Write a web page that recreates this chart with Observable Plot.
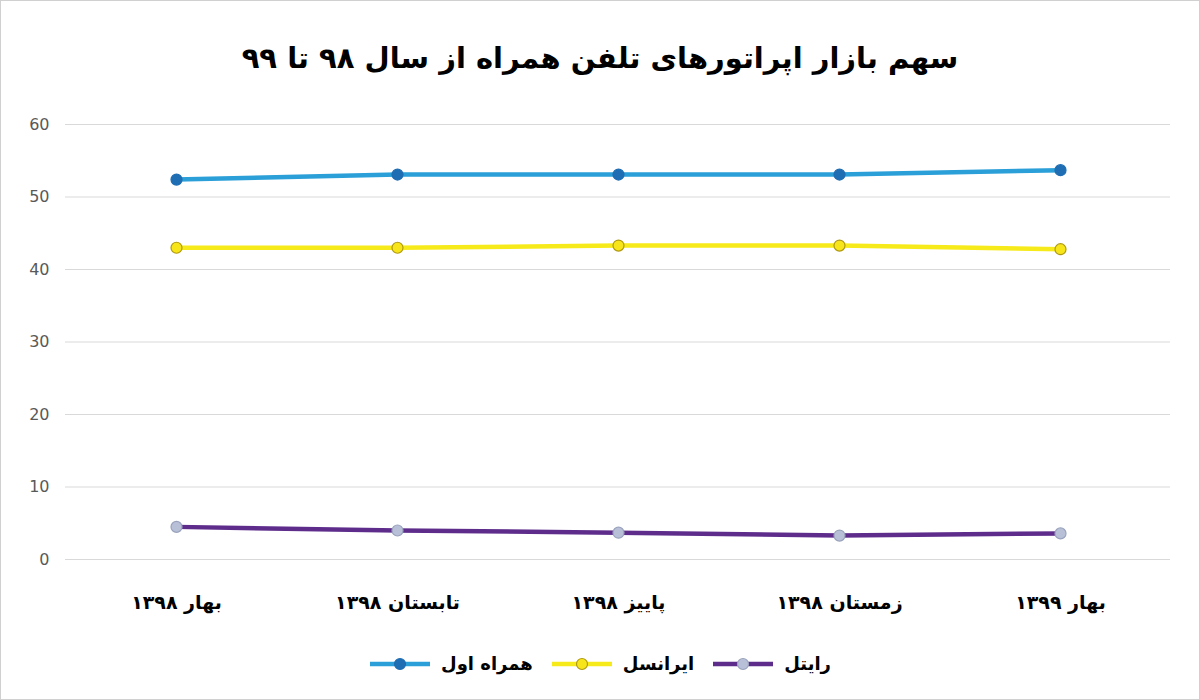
<!DOCTYPE html>
<html>
<head>
<meta charset="utf-8">
<script src="https://cdn.jsdelivr.net/npm/d3@7"></script>
<script src="https://cdn.jsdelivr.net/npm/@observablehq/plot@0.6"></script>
<style>
  html, body { margin: 0; padding: 0; background: #fff; }
  #wrap { width: 1198px; height: 698px; border: 1px solid #d0d0d0; position: relative; overflow: hidden; font-family: "DejaVu Sans", sans-serif; }
  #title { height: 95px; line-height: 114px; text-align: center; font-weight: bold; font-size: 29px; color: #000; direction: rtl; }
  #legend { display: flex; justify-content: center; align-items: center; gap: 18px; margin-top: 22px; font-weight: bold; font-size: 18px; }
  .item { display: flex; align-items: center; gap: 10px; direction: ltr; }
  .item span { direction: rtl; }
</style>
</head>
<body>
<div id="wrap">
  <div id="title">سهم بازار اپراتورهای تلفن همراه از سال ۹۸ تا ۹۹</div>
  <div id="chart"></div>
  <div id="legend"></div>
</div>
<script>
const periods = ["بهار ۱۳۹۸", "تابستان ۱۳۹۸", "پاییز ۱۳۹۸", "زمستان ۱۳۹۸", "بهار ۱۳۹۹"];
const seriesNames = ["همراه اول", "ایرانسل", "رایتل"];
const hamrahAval = [52.4, 53.1, 53.1, 53.1, 53.7];
const irancell = [43.0, 43.0, 43.3, 43.3, 42.8];
const rightel = [4.5, 4.0, 3.7, 3.3, 3.6];
const yTicks = [0, 10, 20, 30, 40, 50, 60];

const styles = [
  {line: "#2a9fd8", fill: "#1f6db3", stroke: "#1f6db3"},
  {line: "#f7ea1a", fill: "#f7e51a", stroke: "#b09a10"},
  {line: "#5e2d8c", fill: "#b8c0d8", stroke: "#9aa3bd"}
];
const allValues = [hamrahAval, irancell, rightel];
const data = [];
allValues.forEach((vals, si) => vals.forEach((v, i) => data.push({series: seriesNames[si], period: periods[i], value: v, si})));

const plot = Plot.plot({
  width: 1198,
  height: 535,
  marginTop: 28,
  marginBottom: 72,
  marginLeft: 64,
  marginRight: 29,
  style: {fontFamily: "DejaVu Sans, sans-serif", background: "transparent"},
  x: {type: "point", domain: periods, padding: 0.5, label: null},
  y: {domain: [0, 60], ticks: yTicks, label: null},
  marks: [
    Plot.ruleY(yTicks, {stroke: "#d9d9d9", strokeWidth: 1}),
    Plot.axisY({ticks: yTicks, tickSize: 0, tickPadding: 16, fontSize: 16, fill: "#595959", label: null}),
    Plot.axisX({tickSize: 0, tickPadding: 36, fontSize: 19, fontWeight: "bold", fill: "#000", label: null}),
    ...seriesNames.map((name, si) => Plot.line(data.filter(d => d.si === si), {x: "period", y: "value", stroke: styles[si].line, strokeWidth: 4.5})),
    ...seriesNames.map((name, si) => Plot.dot(data.filter(d => d.si === si), {x: "period", y: "value", r: 5.5, fill: styles[si].fill, stroke: styles[si].stroke, strokeWidth: 1.2}))
  ]
});
document.getElementById("chart").appendChild(plot);

const legend = document.getElementById("legend");
seriesNames.forEach((name, si) => {
  const item = document.createElement("div");
  item.className = "item";
  item.innerHTML = `<svg width="62" height="16"><line x1="1" y1="8" x2="61" y2="8" stroke="${styles[si].line}" stroke-width="4.5"/><circle cx="31" cy="8" r="5.5" fill="${styles[si].fill}" stroke="${styles[si].stroke}" stroke-width="1.2"/></svg><span>${name}</span>`;
  legend.appendChild(item);
});
</script>
</body>
</html>
